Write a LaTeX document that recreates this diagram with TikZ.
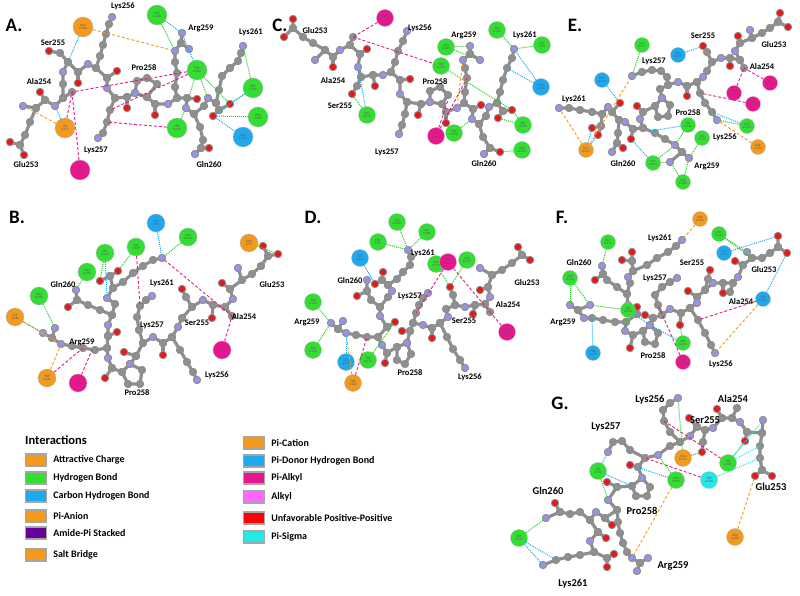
\documentclass[tikz,border=0pt]{standalone}
\usepackage{fontspec}
\setmainfont{Carlito}
\usepackage{tikz}
\usetikzlibrary{positioning}
\definecolor{hgreen}{HTML}{33DD33}
\definecolor{hline}{HTML}{22CC22}
\definecolor{chblue}{HTML}{1EA8EE}
\definecolor{pipink}{HTML}{E8168C}
\definecolor{piorange}{HTML}{F29A1F}
\definecolor{pisig}{HTML}{22E8E8}
\definecolor{alkylc}{HTML}{FF66FF}
\definecolor{amidec}{HTML}{660099}
\definecolor{unfav}{HTML}{FF0000}
\definecolor{stickgray}{HTML}{8E8E8E}
\definecolor{ballgray}{HTML}{9C9C9C}
\definecolor{natomc}{HTML}{9494E2}
\definecolor{oatomc}{HTML}{E81818}
\tikzstyle{stick} = [draw=stickgray, line width=3.2pt, line cap=round, line join=round]
\tikzstyle{natom} = [circle, fill=natomc, inner sep=0pt, minimum size=6.2pt]
\tikzstyle{oatom} = [circle, fill=oatomc, inner sep=0pt, minimum size=6.2pt]
\tikzstyle{res} = [circle, draw=black!30, line width=0.3pt, inner sep=0pt, minimum size=18pt, align=center, text=black!65, font=\fontsize{3.3}{3.6}\selectfont]
\tikzstyle{resgreen} = [res, fill=hgreen]
\tikzstyle{resorange} = [res, fill=piorange]
\tikzstyle{resblue} = [res, fill=chblue]
\tikzstyle{respink} = [res, fill=pipink]
\tikzstyle{rescyan} = [res, fill=pisig]
\tikzstyle{hbond} = [draw=hline, densely dotted, line width=1pt]
\tikzstyle{chbond} = [draw=chblue, densely dotted, line width=1pt]
\tikzstyle{pisigma} = [draw=pisig, densely dotted, line width=1pt]
\tikzstyle{pialkyl} = [draw=pipink, dash pattern=on 3pt off 2pt, line width=0.9pt]
\tikzstyle{picharge} = [draw=piorange, dash pattern=on 3pt off 2pt, line width=0.9pt]
\tikzstyle{etiqueta} = [inner sep=0pt, font=\fontsize{8.5}{9}\selectfont\bfseries]
\tikzstyle{panel} = [inner sep=0pt, font=\fontsize{19}{19}\selectfont\bfseries]
\tikzstyle{legbox} = [draw=gray!70, line width=1.2pt, minimum width=21pt, minimum height=12pt, inner sep=0pt]
\tikzstyle{legtext} = [inner sep=0pt, font=\fontsize{10}{10}\selectfont\bfseries]
\newcommand{\cadena}[1]{\draw[stick] plot[mark=*, mark size=2.5pt, mark options={draw=none, fill=ballgray}] coordinates {#1};}

\begin{document}
\begin{tikzpicture}[x=1pt, y=-1pt]
\useasboundingbox (0,0) rectangle (800,596);

% ---------- A ----------
\begin{scope}[res/.append style={minimum size=20pt}]
\node[panel] (letraA) at (14,25) {A.};
\cadena{(23,106) (36,108) (45,100) (55,106) (63,98) (63,84) (63,72) (68,62) (78,72) (88,64) (96,68) (107,78) (107,88) (115,98) (127,97) (135,93) (147,97) (155,104) (168,104) (177,98) (187,98) (186,108) (194,114) (204,106) (208,98) (216,103) (219,110)}
\cadena{(36,108) (30,122) (25,135) (20,145)}
\cadena{(10,142) (20,145) (24,155)}
\cadena{(45,100) (40,92)}
\cadena{(63,98) (72,92)}
\cadena{(68,62) (60,53) (49,51)}
\cadena{(78,72) (78,83)}
\cadena{(96,68) (100,56) (103,45) (106,34) (109,24) (112,17)}
\cadena{(107,78) (117,71)}
\cadena{(115,98) (110,110) (107,122) (103,133) (98,138)}
\cadena{(127,97) (127,108)}
\cadena{(135,93) (137,81) (147,78) (157,84) (147,97)}
\cadena{(155,104) (155,115)}
\cadena{(177,98) (175,87) (177,73) (175,62) (175,51) (181,43) (182,33)}
\cadena{(181,43) (189,49)}
\cadena{(187,98) (197,99)}
\cadena{(194,114) (200,127) (203,140) (201,148) (195,154)}
\cadena{(201,148) (209,148)}
\cadena{(216,103) (219,90) (222,76) (230,68) (238,61) (241,53) (243,46)}
\cadena{(219,110) (230,104)}
\cadena{(219,110) (213,116)}
\foreach \x/\y [count=\i] in {23/106,55/106,63/72,88/64,107/88,135/93,168/104,186/108,208/98,112/17,98/138,175/51,182/33,189/49,195/154,243/46}
  \node[natom] (aN\i) at (\x,\y) {};
\foreach \x/\y [count=\i] in {10/142,24/155,40/92,78/83,117/71,127/108,155/115,197/99,230/104,213/116,49/51,209/148}
  \node[oatom] (aO\i) at (\x,\y) {};
\foreach \t/\x/\y [count=\i] in {Lys256/123/6,Ser255/53/43,Ala254/39/82,Pro258/144/68,Arg259/201/28,Lys261/251/32,Lys257/96/150,Glu253/26/165,Gln260/209/165}
  \node[etiqueta] (tA\i) at (\x,\y) {\t};
\coordinate (aSerCA) at (68,62);
\coordinate (aAlaCB) at (72,92);
\coordinate (aLysC) at (110,110);
\coordinate (aLysD) at (107,122);
\node[resorange] (aGlu180) at (83,27) {GLU\\A:180};
\node[resgreen] (aAsn228) at (157,15) {ASN\\A:228};
\node[resgreen] (aTrp184) at (197,70) {TRP\\A:184};
\node[resgreen] (aSer149) at (253,88) {SER\\A:149};
\node[resgreen] (aAsn188) at (258,117) {ASN\\A:188};
\node[resblue] (aAsn146) at (243,137) {ASN\\A:146};
\node[resgreen] (aTrp142) at (177,128) {TRP\\A:142};
\node[resorange] (aHis177) at (65,128) {HIS\\A:177};
\node[respink] (aPhe118) at (80,170) {PHE\\A:118};
\draw[chbond] (aGlu180) -- (aSerCA);
\draw[picharge] (aGlu180) -- (aN12);
\draw[hbond] (aAsn228) -- (aN12);
\draw[chbond] (aAsn228) -- (aN13);
\draw[chbond] (aTrp184) -- (aN13);
\draw[hbond] (aTrp184) -- (aN9);
\draw[hbond] (aTrp184) -- (aN8);
\draw[hbond] (aTrp184) -- (aO9);
\draw[pialkyl] (aTrp184) -- (aAlaCB);
\draw[pialkyl] (aTrp184) -- (aLysC);
\draw[hbond] (aSer149) -- (aN16);
\draw[hbond] (aSer149) -- (aO9);
\draw[chbond] (aSer149) -- (aO10);
\draw[hbond] (aAsn188) -- (aO10);
\draw[chbond] (aAsn146) -- (aO10);
\draw[pialkyl] (aTrp142) -- (aLysD);
\draw[hbond] (aTrp142) -- (aN8);
\draw[chbond] (aHis177) -- (aN2);
\draw[picharge] (aHis177) -- (aN1);
\draw[pialkyl] (aHis177) -- (aAlaCB);
\draw[pialkyl] (aPhe118) -- (aAlaCB);
\end{scope}

% ---------- B ----------
\node[panel] (letraB) at (17,217) {B.};
\cadena{(238,268) (242,280) (230,289) (233,299) (225,307) (213,305) (203,300) (192,307) (182,318) (178,327) (172,337) (163,343) (153,337) (143,343) (136,356) (130,364) (122,372) (112,368) (108,358) (107,348) (108,336) (108,325) (112,315) (115,304) (107,298) (113,288) (110,276)}
\cadena{(242,280) (252,274) (261,266) (268,256)}
\cadena{(263,246) (268,256) (278,254)}
\cadena{(230,289) (222,283)}
\cadena{(225,307) (232,316)}
\cadena{(213,305) (212,318)}
\cadena{(192,307) (186,297) (182,289)}
\cadena{(172,337) (180,350) (187,362) (193,372) (197,380)}
\cadena{(163,343) (163,355)}
\cadena{(143,343) (139,330) (137,317) (140,306) (146,300) (152,296)}
\cadena{(136,356) (124,352)}
\cadena{(130,364) (142,370) (140,384) (128,384) (122,372)}
\cadena{(112,368) (105,378)}
\cadena{(107,348) (95,350) (83,348) (72,346) (61,344) (52,338) (43,333)}
\cadena{(52,338) (55,328)}
\cadena{(108,336) (117,332)}
\cadena{(112,315) (100,310) (88,305) (77,300) (76,290)}
\cadena{(77,300) (68,307)}
\cadena{(113,288) (123,282) (133,273) (143,266) (153,260) (162,258)}
\cadena{(100,281) (110,276) (118,271)}
\foreach \x/\y [count=\i] in {238/268,233/299,203/300,178/327,153/337,130/364,108/358,108/325,107/298,197/380,152/296,61/344,43/333,55/328,76/290,162/258}
  \node[natom] (bN\i) at (\x,\y) {};
\foreach \x/\y [count=\i] in {263/246,278/254,222/283,212/318,182/289,163/355,124/352,105/378,117/332,100/281,118/271,68/307}
  \node[oatom] (bO\i) at (\x,\y) {};
\foreach \t/\x/\y [count=\i] in {Gln260/63/285,Lys261/162/283,Lys257/152/325,Ser255/197/323,Ala254/244/317,Arg259/82/342,Pro258/137/393,Lys256/217/375,Glu253/272/285}
  \node[etiqueta] (tB\i) at (\x,\y) {\t};
\coordinate (bAlaCB) at (232,316);
\coordinate (bLysC) at (140,306);
\coordinate (bArgC) at (83,348);
\coordinate (bArgD) at (92,350);
\node[resblue] (bLeu98) at (156,223) {LEU\\A:98};
\node[resgreen] (bGln100) at (188,237) {GLN\\A:100};
\node[resgreen] (bTrp139) at (136,247) {TRP\\A:139};
\node[resgreen] (bSer143) at (105,253) {SER\\A:143};
\node[resgreen] (bAsn182) at (87,272) {ASN\\A:182};
\node[resgreen] (bGlu250) at (39,296) {GLU\\A:250};
\node[resorange] (bAsp260) at (15,317) {ASP\\A:260};
\node[resorange] (bTrp221) at (47,378) {TRP\\A:221};
\node[respink] (bTrp178) at (78,383) {TRP\\A:178};
\node[respink] (bPhe132) at (222,350) {PHE\\A:132};
\node[resorange] (bArg95) at (249,243) {ARG\\A:95};
\draw[chbond] (bLeu98) -- (bN16);
\draw[hbond] (bGln100) -- (bN16);
\draw[hbond] (bTrp139) -- (bO11);
\draw[pialkyl] (bTrp139) -- (bLysC);
\draw[hbond] (bSer143) -- (bO10);
\draw[chbond] (bSer143) -- (bN9);
\draw[hbond] (bAsn182) -- (bN15);
\draw[hbond] (bGlu250) -- (bN14);
\draw[hbond] (bAsp260) -- (bN13);
\draw[picharge] (bAsp260) -- (bN12);
\draw[picharge] (bTrp221) -- (bN12);
\draw[pialkyl] (bTrp221) -- (bArgC);
\draw[pialkyl] (bTrp178) -- (bArgD);
\draw[pialkyl] (bPhe132) -- (bAlaCB);
\draw[pialkyl] (bN16) -- (bAlaCB);
\draw[picharge] (bArg95) -- (bO1);
\draw[hbond] (bArg95) -- (bO2);

% ---------- C ----------
\begin{scope}[res/.append style={minimum size=17pt}]
\node[panel] (letraC) at (280,25) {C.};
\cadena{(315,60) (325,50) (333,57) (340,50) (350,45) (360,54) (358,67) (361,77) (373,75) (383,75) (391,72) (400,80) (400,94) (407,102) (421,104) (430,102) (442,104) (446,112) (457,108) (464,103) (473,109) (472,119) (479,124) (486,116) (489,107) (497,103) (503,111)}
\cadena{(430,102) (430,91) (440,87) (448,95) (442,104)}
\cadena{(325,50) (313,43) (303,37) (293,28)}
\cadena{(293,19) (293,28) (284,37)}
\cadena{(333,57) (333,67)}
\cadena{(350,45) (353,37)}
\cadena{(360,54) (367,49)}
\cadena{(361,77) (357,86) (352,94)}
\cadena{(373,75) (375,86)}
\cadena{(391,72) (395,62) (398,51) (403,41) (407,31)}
\cadena{(400,80) (410,79)}
\cadena{(407,102) (405,114) (402,125) (399,134)}
\cadena{(421,104) (418,115)}
\cadena{(446,112) (446,123)}
\cadena{(464,103) (465,92) (467,78) (465,68) (463,60) (470,54) (470,46)}
\cadena{(470,54) (480,60)}
\cadena{(473,109) (481,105)}
\cadena{(479,124) (483,137) (490,148) (484,154)}
\cadena{(490,148) (500,152)}
\cadena{(497,103) (500,92) (503,80) (507,68) (512,58) (514,49)}
\cadena{(512,110) (503,111) (498,118)}
\foreach \x/\y [count=\i] in {315/60,340/50,358/67,383/75,400/94,430/102,457/108,472/119,489/107,407/31,399/134,463/60,470/46,480/60,484/154,514/49}
  \node[natom] (cN\i) at (\x,\y) {};
\foreach \x/\y [count=\i] in {293/19,284/37,333/67,367/49,375/86,410/79,418/115,446/123,481/105,512/110,498/118,352/94,500/152}
  \node[oatom] (cO\i) at (\x,\y) {};
\foreach \t/\x/\y [count=\i] in {Glu253/315/31,Lys256/420/28,Arg259/464/35,Lys261/525/35,Ala254/333/81,Pro258/435/82,Ser255/340/106,Lys257/387/152,Gln260/484/164}
  \node[etiqueta] (tC\i) at (\x,\y) {\t};
\coordinate (cAlaCB) at (353,37);
\coordinate (cLysC) at (507,68);
\coordinate (cArgC) at (467,78);
\coordinate (cProC) at (448,100);
\node[respink] (cPhe121) at (385,18) {PHE\\A:121};
\node[resgreen] (cAsn289) at (446,47) {ASN\\A:289};
\node[resgreen] (cTrp132) at (441,66) {TRP\\A:132};
\node[resgreen] (cAsn345) at (497,30) {ASN\\A:345};
\node[resgreen] (cLeu98) at (542,45) {LEU\\A:98};
\node[resblue] (cAsp132) at (541,87) {ASP\\A:132};
\node[resgreen] (cSer149) at (523,125) {SER\\A:149};
\node[resgreen] (cArg183) at (522,150) {ARG\\A:183};
\node[resgreen] (cGlu179) at (367,115) {GLU\\A:179};
\node[resgreen] (cTrp178) at (454,133) {TRP\\A:178};
\node[respink] (cTrp223) at (436,136) {TRP\\A:223};
\draw[pialkyl] (cPhe121) -- (cAlaCB);
\draw[pialkyl] (cAlaCB) -- (cTrp132);
\draw[hbond] (cAsn289) -- (cN13);
\draw[hbond] (cAsn289) -- (cN14);
\draw[hbond] (cTrp132) -- (cO10);
\draw[hbond] (cAsn345) -- (cN16);
\draw[hbond] (cLeu98) -- (cN16);
\draw[chbond] (cAsp132) -- (cN16);
\draw[chbond] (cAsp132) -- (cLysC);
\draw[hbond] (cSer149) -- (cO10);
\draw[hbond] (cSer149) -- (cO11);
\draw[hbond] (cArg183) -- (cO13);
\draw[hbond] (cGlu179) -- (cO12);
\draw[chbond] (cGlu179) -- (cN3);
\draw[hbond] (cTrp178) -- (cN8);
\draw[pialkyl] (cTrp223) -- (cArgC);
\draw[pialkyl] (cTrp223) -- (cProC);
\draw[picharge] (cN12) -- (cN7);
\end{scope}

% ---------- D ----------
\begin{scope}[res/.append style={minimum size=17pt}]
\node[panel] (letraD) at (313,217) {D.};
\cadena{(480,268) (492,275) (488,287) (490,297) (485,304) (475,305) (465,307) (455,305) (446,309) (448,317) (440,323) (432,328) (423,325) (413,323) (410,331) (407,343) (397,347) (387,353) (382,345) (378,337) (387,327) (380,316) (380,307) (388,297) (392,291) (388,285) (382,280)}
\cadena{(407,343) (411,354) (405,364) (397,360) (397,347)}
\cadena{(492,275) (502,270) (512,263) (522,255)}
\cadena{(518,247) (522,255) (530,260)}
\cadena{(488,287) (480,290)}
\cadena{(485,304) (490,312)}
\cadena{(475,305) (473,314)}
\cadena{(455,305) (453,295) (450,287)}
\cadena{(440,323) (447,337) (453,349) (460,360) (465,368)}
\cadena{(432,328) (432,338)}
\cadena{(413,323) (416,313) (419,305) (423,298) (428,293)}
\cadena{(410,331) (402,331)}
\cadena{(387,353) (385,363)}
\cadena{(378,337) (367,337) (356,335) (346,333) (338,329) (331,323)}
\cadena{(338,329) (343,321)}
\cadena{(387,327) (395,322)}
\cadena{(380,307) (371,300) (367,291) (367,280)}
\cadena{(367,291) (357,296)}
\cadena{(375,284) (382,280) (383,272)}
\cadena{(388,285) (397,279) (403,272) (410,265) (411,257) (408,250)}
\foreach \x/\y [count=\i] in {480/268,490/297,465/307,448/317,423/325,407/343,382/345,380/316,392/291,465/368,428/293,346/333,331/323,343/321,367/280,408/250}
  \node[natom] (dN\i) at (\x,\y) {};
\foreach \x/\y [count=\i] in {518/247,530/260,480/290,473/314,450/287,432/338,402/331,385/363,395/322,357/296,375/284,383/272}
  \node[oatom] (dO\i) at (\x,\y) {};
\foreach \t/\x/\y [count=\i] in {Lys261/423/253,Gln260/350/281,Lys257/410/296,Glu253/527/283,Ala254/508/305,Arg259/307/322,Ser255/464/321,Pro258/410/373,Lys256/470/377}
  \node[etiqueta] (tD\i) at (\x,\y) {\t};
\coordinate (dAlaCB) at (490,312);
\coordinate (dLysC) at (416,313);
\coordinate (dArgC) at (367,337);
\node[resgreen] (dAsp316) at (397,222) {ASP\\A:316};
\node[resgreen] (dGly300) at (427,232) {GLY\\A:300};
\node[resgreen] (dLeu99) at (378,242) {LEU\\A:99};
\node[resblue] (dSer146) at (360,258) {SER\\A:146};
\node[resgreen] (dAsp173) at (436,264) {ASP\\A:173};
\node[respink] (dTrp117) at (448,262) {TRP\\A:117};
\node[resgreen] (dAsn172) at (467,260) {ASN\\A:172};
\node[resgreen] (dAsp261) at (313,302) {ASP\\A:261};
\node[resgreen] (dArg218) at (313,350) {ARG\\A:218};
\node[resblue] (dAsn219) at (346,362) {ASN\\A:219};
\node[resgreen] (dTrp178) at (368,360) {TRP\\A:178};
\node[resorange] (dTrp222) at (353,383) {TRP\\A:222};
\node[respink] (dPhe132) at (507,332) {PHE\\A:132};
\draw[hbond] (dAsp316) -- (dN16);
\draw[hbond] (dGly300) -- (dN16);
\draw[hbond] (dLeu99) -- (dN16);
\draw[chbond] (dSer146) -- (dO11);
\draw[hbond] (dAsp173) -- (dO5);
\draw[pialkyl] (dTrp117) -- (dLysC);
\draw[pialkyl] (dTrp117) -- (dAlaCB);
\draw[hbond] (dAsn172) -- (dO5);
\draw[pialkyl] (dPhe132) -- (dAlaCB);
\draw[hbond] (dAsp261) -- (dN13);
\draw[hbond] (dArg218) -- (dN13);
\draw[chbond] (dAsn219) -- (dN12);
\draw[hbond] (dTrp178) -- (dO9);
\draw[picharge] (dTrp222) -- (dN12);
\draw[pialkyl] (dTrp222) -- (dArgC);
\end{scope}

% ---------- E ----------
\begin{scope}[res/.append style={minimum size=15pt}]
\node[panel] (letraE) at (575,25) {E.};
\cadena{(750,30) (752,38) (740,43) (735,51) (740,60) (730,58) (721,58) (712,62) (707,71) (703,77) (697,82) (687,86) (678,82) (668,85) (660,89) (662,98) (655,106) (643,112) (640,119) (643,128) (633,129) (625,122) (619,120) (612,112) (608,107) (602,114) (601,126)}
\cadena{(662,98) (670,105) (668,116) (658,117) (655,106)}
\cadena{(752,38) (762,33) (770,28) (778,22)}
\cadena{(780,13) (778,22) (788,27)}
\cadena{(740,43) (738,36)}
\cadena{(740,60) (744,68)}
\cadena{(730,58) (730,66)}
\cadena{(712,62) (707,52) (703,46)}
\cadena{(697,82) (700,93) (705,103) (712,112) (717,120)}
\cadena{(687,86) (687,96)}
\cadena{(668,85) (667,77) (661,71) (652,70) (642,72) (632,76)}
\cadena{(643,112) (637,106)}
\cadena{(643,128) (655,133) (665,139) (675,145) (682,152) (670,162)}
\cadena{(682,152) (689,158)}
\cadena{(633,129) (631,139)}
\cadena{(619,120) (618,133) (617,143) (612,152)}
\cadena{(617,143) (623,148)}
\cadena{(612,112) (620,103)}
\cadena{(602,114) (592,112) (580,110) (569,108) (559,108)}
\cadena{(592,128) (601,126) (598,135)}
\foreach \x/\y [count=\i] in {750/30,735/51,721/58,703/77,678/82,662/98,640/119,625/122,608/107,717/120,632/76,675/145,670/162,689/158,612/152,559/108}
  \node[natom] (eN\i) at (\x,\y) {};
\foreach \x/\y [count=\i] in {780/13,788/27,738/36,730/66,703/46,687/96,637/106,631/139,620/103,592/128,598/135,623/148}
  \node[oatom] (eO\i) at (\x,\y) {};
\foreach \t/\x/\y [count=\i] in {Ser255/703/36,Glu253/774/45,Ala254/762/67,Lys257/654/61,Lys261/574/99,Pro258/688/113,Lys256/725/137,Gln260/623/164,Arg259/707/166}
  \node[etiqueta] (tE\i) at (\x,\y) {\t};
\coordinate (eAlaCB) at (744,68);
\coordinate (eLysB) at (700,93);
\coordinate (eLysA) at (712,112);
\coordinate (eArgB) at (650,131);
\node[resgreen] (eGly111) at (642,45) {GLY\\A:111};
\node[resblue] (eAsn195) at (678,55) {ASN\\A:195};
\node[resblue] (ePro135) at (602,80) {PRO\\A:135};
\node[respink] (eTrp179) at (770,83) {TRP\\A:179};
\node[respink] (eTrp175) at (734,93) {TRP\\A:175};
\node[respink] (eTrp178) at (753,104) {TRP\\A:178};
\node[resgreen] (eSer156) at (688,125) {SER\\A:156};
\node[resgreen] (eAsn172) at (747,126) {ASN\\A:172};
\node[resorange] (eAsp275) at (758,147) {ASP\\A:275};
\node[resgreen] (eAla155) at (702,138) {ALA\\A:155};
\node[resorange] (eGlu111) at (586,150) {GLU\\A:111};
\node[resgreen] (eGly134) at (653,163) {GLY\\A:134};
\node[resgreen] (eAsp189) at (683,182) {ASP\\A:189};
\draw[hbond] (eGly111) -- (eN11);
\draw[chbond] (eAsn195) -- (eO5);
\draw[chbond] (ePro135) -- (eO9);
\draw[picharge] (eGlu111) -- (eN11);
\draw[picharge] (eGlu111) -- (eN16);
\draw[chbond] (eGlu111) -- (eO10);
\draw[chbond] (eGlu111) -- (eO11);
\draw[pialkyl] (eTrp179) -- (eAlaCB);
\draw[pialkyl] (eTrp175) -- (eAlaCB);
\draw[pialkyl] (eTrp178) -- (eLysB);
\draw[chbond] (eSer156) -- (eArgB);
\draw[hbond] (eSer156) -- (eN12);
\draw[hbond] (eAsn172) -- (eN10);
\draw[chbond] (eAsn172) -- (eLysA);
\draw[picharge] (eAsp275) -- (eN10);
\draw[hbond] (eAla155) -- (eN14);
\draw[hbond] (eGly134) -- (eN12);
\draw[hbond] (eGly134) -- (eN13);
\draw[chbond] (eGly134) -- (eO8);
\draw[hbond] (eAsp189) -- (eN13);
\draw[hbond] (eAsp189) -- (eN14);
\end{scope}

% ---------- F ----------
\begin{scope}[res/.append style={minimum size=15pt}]
\node[panel] (letraF) at (562,217) {F.};
\cadena{(747,252) (752,258) (743,265) (738,277) (733,283) (723,283) (713,283) (705,290) (697,297) (697,303) (690,308) (681,313) (670,309) (662,315) (653,318) (650,325) (643,331) (633,335) (625,331) (626,322) (637,314) (628,305) (627,294) (630,283) (628,277) (633,271) (632,261)}
\cadena{(650,325) (658,333) (655,344) (645,342) (643,331)}
\cadena{(752,258) (762,258) (770,253) (778,247)}
\cadena{(778,236) (778,247) (787,253)}
\cadena{(743,265) (735,261)}
\cadena{(733,283) (730,292)}
\cadena{(723,283) (723,293)}
\cadena{(705,290) (708,279) (710,270)}
\cadena{(697,297) (688,291)}
\cadena{(690,308) (698,320) (705,333) (711,345) (715,353)}
\cadena{(681,313) (680,325)}
\cadena{(662,315) (658,305) (655,295) (662,287) (670,282) (677,278)}
\cadena{(653,318) (645,315)}
\cadena{(633,335) (630,348)}
\cadena{(626,322) (615,322) (603,320) (592,318) (584,318) (578,310) (570,305)}
\cadena{(578,310) (590,305)}
\cadena{(637,314) (637,307)}
\cadena{(627,294) (617,287) (607,280) (603,274) (602,266)}
\cadena{(603,274) (595,280)}
\cadena{(622,260) (632,261) (632,252)}
\cadena{(633,271) (647,265) (657,258) (668,252) (676,246) (682,240)}
\foreach \x/\y [count=\i] in {747/252,738/277,713/283,697/303,670/309,650/325,625/331,628/305,628/277,715/353,677/278,584/318,570/305,590/305,602/266,682/240}
  \node[natom] (fN\i) at (\x,\y) {};
\foreach \x/\y [count=\i] in {778/236,787/253,735/261,723/293,710/270,688/291,680/325,645/315,630/348,637/307,595/280,622/260,632/252}
  \node[oatom] (fO\i) at (\x,\y) {};
\foreach \t/\x/\y [count=\i] in {Lys261/660/238,Ser255/692/263,Glu253/764/270,Gln260/579/263,Lys257/655/278,Ala254/741/302,Arg259/563/322,Pro258/653/356,Lys256/721/364}
  \node[etiqueta] (tF\i) at (\x,\y) {\t};
\coordinate (fGluCA) at (752,258);
\coordinate (fLysB) at (698,320);
\coordinate (fArgC) at (592,318);
\coordinate (fLysC) at (658,305);
\node[resorange] (fAsp260) at (700,219) {ASP\\A:260};
\node[resgreen] (fGly151) at (608,242) {GLY\\A:151};
\node[resgreen] (fAsn225) at (719,234) {ASN\\A:225};
\node[resblue] (fGly197) at (724,253) {GLY\\A:197};
\node[resgreen] (fAsn150) at (570,278) {ASN\\A:150};
\node[resgreen] (fSer150) at (628,310) {SER\\A:150};
\node[resblue] (fTrp189) at (763,299) {TRP\\A:189};
\node[resblue] (fPhe212) at (593,353) {PHE\\A:212};
\node[resgreen] (fAsn195) at (683,343) {ASN\\A:195};
\node[respink] (fTrp212) at (683,362) {TRP\\A:212};
\draw[picharge] (fAsp260) -- (fN16);
\draw[hbond] (fGly151) -- (fN15);
\draw[hbond] (fAsn225) -- (fN1);
\draw[hbond] (fAsn225) -- (fGluCA);
\draw[chbond] (fGly197) -- (fO1);
\draw[hbond] (fAsn150) -- (fN13);
\draw[hbond] (fAsn150) -- (fN14);
\draw[hbond] (fSer150) -- (fN14);
\draw[chbond] (fSer150) -- (fN6);
\draw[hbond] (fSer150) -- (fN7);
\draw[chbond] (fTrp189) -- (fO2);
\draw[picharge] (fTrp189) -- (fN10);
\draw[pialkyl] (fTrp189) -- (fLysB);
\draw[chbond] (fPhe212) -- (fArgC);
\draw[chbond] (fAsn195) -- (fN6);
\draw[hbond] (fAsn195) -- (fO7);
\draw[pialkyl] (fTrp212) -- (fLysC);
\end{scope}

% ---------- G ----------
\begin{scope}[res/.append style={minimum size=17pt}, etiqueta/.append style={font=\fontsize{10.5}{11}\selectfont\bfseries}]
\node[panel] (letraG) at (560,403) {G.};
\cadena{(763,420) (762,433) (747,432) (740,422) (732,418) (722,418) (713,428) (705,430) (697,427) (690,436) (680,442) (670,446) (658,455) (645,458) (638,467) (642,478) (632,486) (617,487) (608,500) (617,510) (605,518) (596,512) (590,520) (598,532) (590,541) (594,552) (607,558)}
\cadena{(642,478) (650,487) (647,496) (636,496) (632,486)}
\cadena{(762,433) (760,446) (760,458) (762,470)}
\cadena{(755,476) (762,470) (772,476)}
\cadena{(747,432) (745,441)}
\cadena{(732,418) (737,408)}
\cadena{(722,418) (717,409)}
\cadena{(705,430) (703,442) (702,452)}
\cadena{(697,427) (689,418)}
\cadena{(680,442) (670,432) (664,421) (663,410) (670,403) (678,398)}
\cadena{(645,458) (630,450) (622,441) (613,442) (608,452)}
\cadena{(638,467) (630,465)}
\cadena{(617,487) (607,482)}
\cadena{(617,510) (618,522) (620,533) (623,543) (627,552) (632,558) (640,563) (637,571)}
\cadena{(640,563) (648,558)}
\cadena{(605,518) (612,525)}
\cadena{(590,520) (580,512) (570,514) (560,512) (546,518)}
\cadena{(560,512) (555,503)}
\cadena{(598,532) (606,538)}
\cadena{(594,552) (580,555) (568,557) (556,560) (543,565)}
\cadena{(614,554) (607,558) (607,567)}
\foreach \x/\y [count=\i] in {763/420,740/422,713/428,690/436,658/455,642/478,608/500,596/512,590/541,678/398,608/452,632/558,637/571,648/558,546/518,543/565}
  \node[natom] (gN\i) at (\x,\y) {};
\foreach \x/\y [count=\i] in {755/476,772/476,745/441,717/409,702/452,689/418,630/465,607/482,612/525,606/538,614/554,607/567,555/503}
  \node[oatom] (gO\i) at (\x,\y) {};
\foreach \t/\x/\y [count=\i] in {Lys256/650/400,Ala254/733/399,Ser255/705/420,Lys257/606/427,Glu253/771/487,Gln260/548/491,Pro258/642/511,Arg259/673/566,Lys261/573/584}
  \node[etiqueta] (tG\i) at (\x,\y) {\t};
\coordinate (gGluB) at (760,446);
\coordinate (gGluC) at (760,458);
\coordinate (gLysA) at (664,421);
\coordinate (gLysB) at (645,458);
\coordinate (gProA) at (632,486);
\coordinate (gLysD) at (556,560);
\node[resorange] (gGlu111) at (683,458) {GLU\\A:111};
\node[resgreen] (gTrp180) at (728,463) {TRP\\A:180};
\node[rescyan] (gTrp230) at (709,480) {TRP\\A:230};
\node[resgreen] (gSer150) at (598,471) {SER\\A:150};
\node[resgreen] (gAsn193) at (676,480) {ASN\\A:193};
\node[resgreen] (gAsp237) at (519,538) {ASP\\A:237};
\node[resorange] (gArg228) at (735,537) {ARG\\A:228};
\draw[hbond] (gGlu111) -- (gN10);
\draw[chbond] (gGlu111) -- (gO5);
\draw[hbond] (gTrp180) -- (gO3);
\draw[pisigma] (gTrp180) -- (gGluB);
\draw[pisigma] (gTrp180) -- (gN1);
\draw[pisigma] (gTrp230) -- (gGluC);
\draw[pialkyl] (gTrp230) -- (gLysB);
\draw[pialkyl] (gLysA) -- (gTrp180);
\draw[chbond] (gSer150) -- (gN11);
\draw[chbond] (gSer150) -- (gProA);
\draw[hbond] (gSer150) -- (gN7);
\draw[hbond] (gAsn193) -- (gN5);
\draw[chbond] (gAsn193) -- (gO7);
\draw[picharge] (gAsn193) -- (gN12);
\draw[picharge] (gArg228) -- (gO1);
\draw[hbond] (gAsp237) -- (gN15);
\draw[chbond] (gAsp237) -- (gN16);
\draw[chbond] (gAsp237) -- (gLysD);
\end{scope}

% ---------- legend ----------
\node[anchor=west, inner sep=0pt, font=\fontsize{12.5}{13}\selectfont\bfseries] (leyenda) at (25,440) {Interactions};
\foreach \c/\t/\y [count=\i] in {piorange/Attractive Charge/460, hgreen/Hydrogen Bond/478, chblue/Carbon Hydrogen Bond/496, piorange/Pi-Anion/516, amidec/Amide-Pi Stacked/533, piorange/Salt Bridge/555}
{
  \node[legbox, fill=\c] (lb\i) at (36,\y) {};
  \node[legtext, right=6pt of lb\i] (lt\i) {\t};
}
\foreach \c/\t/\y [count=\i] in {piorange/Pi-Cation/443, chblue/Pi-Donor Hydrogen Bond/461, pipink/Pi-Alkyl/478, alkylc/Alkyl/497, unfav/Unfavorable Positive-Positive/518, pisig/Pi-Sigma/537}
{
  \node[legbox, fill=\c] (lc\i) at (254,\y) {};
  \node[legtext, right=6pt of lc\i] (ld\i) {\t};
}
\end{tikzpicture}
\end{document}
